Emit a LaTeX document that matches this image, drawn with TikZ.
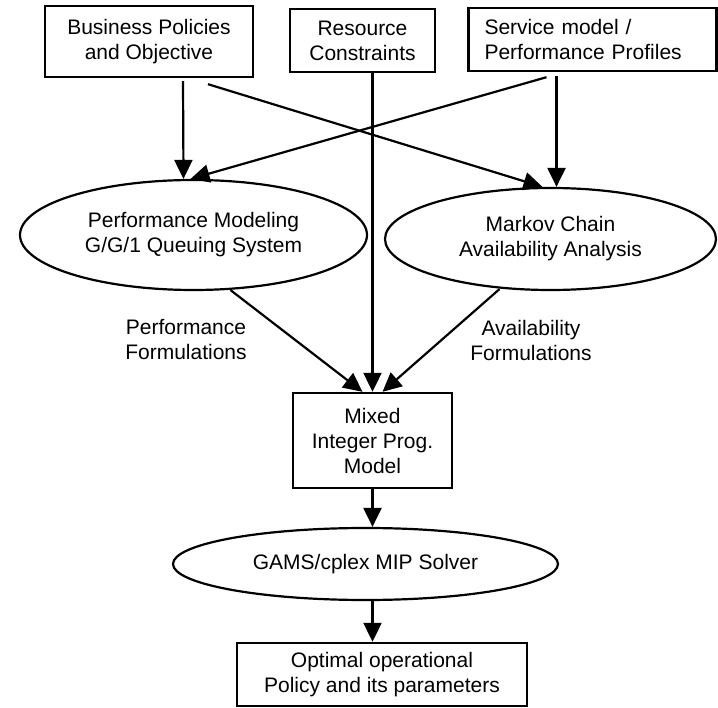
\documentclass[tikz,border=0pt]{standalone}
\usepackage{fontspec}
\setmainfont{Liberation Sans}
\usetikzlibrary{shapes.geometric,arrows.meta,positioning}

\begin{document}
\begin{tikzpicture}[
    x=1pt, y=-1pt,
    every node/.style={font=\fontsize{21}{25}\selectfont},
    box/.style={rectangle, draw=black, line width=2.4pt, align=center, inner sep=0pt},
    oval/.style={ellipse, draw=black, line width=2.2pt, align=center, inner sep=0pt},
    line/.style={line width=2.2pt, draw=black, -{Triangle[length=19pt,width=18pt]}},
    note/.style={align=center, inner sep=1pt}
]
\useasboundingbox (0,0) rectangle (718,708);

% Top Row - Inputs
\node[box, minimum width=208pt, minimum height=71pt] (policies) at (149,41.5) {Business Policies\\and Objective};
\node[box, minimum width=145pt, minimum height=63pt] (resource) at (362.5,40.5) {Resource\\Constraints};
\node[box, align=left, text width=216pt, inner xsep=16pt, minimum height=63pt] (service) at (592.5,39.5) {Service model /\\Performance Profiles};

% Middle Row - Analysis
\node[oval, minimum width=347pt, minimum height=110pt] (perf) at (193.5,235) {Performance Modeling\\G/G/1 Queuing System};
\node[oval, minimum width=331pt, minimum height=102pt] (markov) at (550.5,239) {Markov Chain\\Availability Analysis};

% Bottom Row - Optimization
\node[box, minimum width=159pt, minimum height=95pt] (mip) at (372.5,440.5) {Mixed\\Integer Prog.\\Model};
\node[oval, minimum width=385pt, minimum height=72pt] (gams) at (365.5,564) {GAMS/cplex MIP Solver};
\node[box, minimum width=290pt, minimum height=63pt] (opt) at (382,674.5) {Optimal operational\\Policy and its parameters};

% Connections
\draw[line] ([xshift=34pt,yshift=-3pt]policies.south) -- ([xshift=-10pt]perf.north);
\draw[line] ([xshift=59pt,yshift=-6pt]policies.south) -- ([xshift=-8pt]markov.north);
\draw[line] ([xshift=-36pt,yshift=-4pt]service.south) -- ([xshift=6pt]markov.north);
\draw[line] ([xshift=-46pt,yshift=-5pt]service.south) -- ([xshift=-3pt]perf.north);
\draw[line] (mip.north |- resource.south) -- (mip.north);
\draw[line] ([xshift=37pt,yshift=1pt]perf.south) -- ([xshift=-10pt]mip.north);
\draw[line] ([xshift=-51pt,yshift=2pt]markov.south) -- ([xshift=10pt]mip.north);
\draw[line] (mip.south) -- (mip.south |- gams.north);
\draw[line] (gams.south -| mip.south) -- (opt.north -| mip.south);

% Labels on the formulation arrows
\node[note] (perflabel) at (186,340) {Performance\\Formulations};
\node[note] (availlabel) at (531,340) {Availability\\Formulations};

\end{tikzpicture}
\end{document}
